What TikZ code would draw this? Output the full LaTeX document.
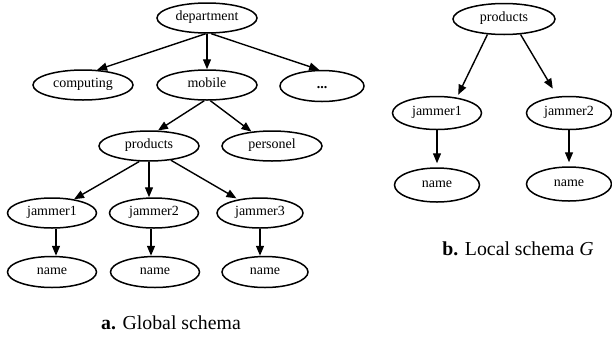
\documentclass[tikz,border=0pt]{standalone}
\usepackage{fontspec}
\setmainfont{Liberation Serif}
\usetikzlibrary{shapes.geometric,arrows.meta}
\tikzset{
  el/.style={draw, ellipse, line width=1.5pt, inner sep=0pt, font=\fontsize{14}{15}\selectfont, text height=0.68em, text depth=0.2em},
  big/.style={el, minimum width=100pt, minimum height=30pt},
  mid/.style={el, minimum width=89pt, minimum height=30pt},
  arr/.style={line width=1.4pt, -{Triangle[length=10pt,width=8pt]}},
  captext/.style={font=\fontsize{19.8}{22}\selectfont, inner sep=0pt}
}
\begin{document}
\begin{tikzpicture}[x=1pt,y=-1pt]
\useasboundingbox (0,0) rectangle (612,338);
% global schema
\node[big] (dept) at (207,18) {department};
\node[big] (comp) at (83,85) {computing};
\node[big] (mob) at (207,85) {mobile};
\node[el, minimum width=84pt, minimum height=31pt] (dots) at (322,86) {\textbf{...}};
\node[big] (prod) at (149,146) {products};
\node[big] (pers) at (272,146) {personel};
\node[mid] (j1) at (52,213) {jammer1};
\node[mid] (j2) at (154,213) {jammer2};
\node[el, minimum width=86pt, minimum height=30pt] (j3) at (260,213) {jammer3};
\node[mid, minimum height=31pt] (n1) at (52,272) {name};
\node[mid, minimum height=31pt] (n2) at (155,272) {name};
\node[el, minimum width=86pt, minimum height=31pt] (n3) at (265,272) {name};
\node[captext] (capa) at (171,323) {\textbf{a.} Global schema};
\draw[arr] (dept.265) -- (comp.47);
\draw[arr] (dept.south) -- (mob.north);
\draw[arr] (dept.285) -- (dots.100);
\draw[arr] (mob.260) -- (prod.60);
\draw[arr] (mob.282) -- (pers.145);
\draw[arr] (prod.238) -- (j1.32);
\draw[arr] (prod.south) -- (prod.south |- j2.north);
\draw[arr, shorten >=2pt] (prod.327) -- (j3.148);
\draw[arr] ([xshift=4pt]j1.south) -- ([xshift=4pt]j1.south |- n1.north);
\draw[arr] ([xshift=-3pt]j2.south) -- ([xshift=-3pt]j2.south |- n2.north);
\draw[arr] (j3.south) -- (j3.south |- n3.north);
% local schema
\node[el, minimum width=102pt, minimum height=31pt] (lp) at (504,19) {products};
\node[el, minimum width=89pt, minimum height=33pt] (lj1) at (437,113) {jammer1};
\node[el, minimum width=85pt, minimum height=33pt] (lj2) at (569,113) {jammer2};
\node[el, minimum width=85pt, minimum height=34pt] (ln1) at (437,185) {name};
\node[el, minimum width=85pt, minimum height=34pt] (ln2) at (569,184) {name};
\node[captext] (capb) at (518,249) {\textbf{b.} Local schema \textit{G}};
\draw[arr, shorten >=3pt] (lp.223) -- (lj1.38);
\draw[arr, shorten >=9pt] (lp.317) -- (lj2.125);
\draw[arr, shorten >=4pt] (lj1.south) -- (ln1.north);
\draw[arr, shorten >=4pt] (lj2.south) -- (ln2.north);
\end{tikzpicture}
\end{document}
